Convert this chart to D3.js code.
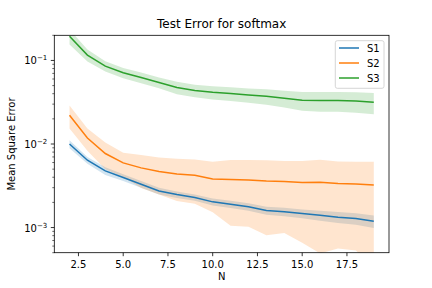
<!DOCTYPE html>
<html>
<head>
<meta charset="utf-8">
<script src="https://cdn.jsdelivr.net/npm/d3@7"></script>
<style>
  body { margin: 0; background: #fff; }
  text { font-family: "DejaVu Sans", sans-serif; fill: #000; }
</style>
</head>
<body>
<div id="chart"></div>
<script>
// Data
const N = [2, 3, 4, 5, 6, 7, 8, 9, 10, 11, 12, 13, 14, 15, 16, 17, 18, 19];
const seriesNames = ["S1", "S2", "S3"];
const colors = ["#1f77b4", "#ff7f0e", "#2ca02c"];

const s1Mean = [0.0100, 0.0064, 0.00477, 0.00397, 0.0033, 0.00274, 0.00248, 0.00229, 0.00203,
  0.0019, 0.00177, 0.0016, 0.00155, 0.00147, 0.0014, 0.00133, 0.00128, 0.00119];
const s1Std = [0.0011, 0.0006, 0.0005, 0.00037, 0.0003, 0.00025, 0.00022, 0.0002, 0.00019,
  0.00019, 0.00018, 0.00018, 0.00018, 0.00018, 0.00019, 0.0002, 0.0002, 0.0002];

const s2Mean = [0.0221, 0.0118, 0.00769, 0.00594, 0.00518, 0.00469, 0.00438, 0.00423, 0.00382,
  0.00375, 0.00372, 0.00361, 0.00356, 0.00346, 0.00349, 0.00336, 0.00333, 0.00324];
const s2Std = [0.0068, 0.0035, 0.0027, 0.0019, 0.0022, 0.0022, 0.0023, 0.0023, 0.0023,
  0.0027, 0.0027, 0.0028, 0.0027, 0.0028, 0.003, 0.0028, 0.0028, 0.0029];

const s3Mean = [0.195, 0.116, 0.0855, 0.0711, 0.0625, 0.0545, 0.0475, 0.0438, 0.0417,
  0.0402, 0.0387, 0.0373, 0.0354, 0.0335, 0.0332, 0.0332, 0.0326, 0.0317];
const s3Std = [0.04, 0.019, 0.012, 0.010, 0.009, 0.008, 0.008, 0.0075, 0.0075,
  0.0075, 0.0075, 0.0078, 0.008, 0.0085, 0.0088, 0.0088, 0.009, 0.009];

const xTicks = [2.5, 5.0, 7.5, 10.0, 12.5, 15.0, 17.5];
const yMajor = [1e-3, 1e-2, 1e-1];

// Layout
const width = 432, height = 288;
const margin = { top: 35.3, right: 43, bottom: 35.3, left: 54.3 };
const innerW = width - margin.left - margin.right;
const innerH = height - margin.top - margin.bottom;

const svg = d3.select("#chart").append("svg")
  .attr("width", width).attr("height", height);

const x = d3.scaleLinear().domain([1.15, 19.85]).range([margin.left, margin.left + innerW]);
const y = d3.scaleLog().domain([5e-4, 0.2]).range([margin.top + innerH, margin.top]);

svg.append("defs").append("clipPath").attr("id", "clip")
  .append("rect")
  .attr("x", margin.left).attr("y", margin.top)
  .attr("width", innerW).attr("height", innerH);

const plot = svg.append("g").attr("clip-path", "url(#clip)");

const series = [
  { mean: s1Mean, std: s1Std },
  { mean: s2Mean, std: s2Std },
  { mean: s3Mean, std: s3Std },
];

const yc = (v) => y(Math.max(v, 1e-6));

const area = d3.area()
  .x((d) => x(d.n))
  .y0((d) => yc(d.lo))
  .y1((d) => yc(d.hi));

const line = d3.line()
  .x((d) => x(d.n))
  .y((d) => y(d.m));

series.forEach((s, i) => {
  const pts = N.map((n, k) => ({
    n, m: s.mean[k], lo: s.mean[k] - s.std[k], hi: s.mean[k] + s.std[k],
  }));
  plot.append("path").datum(pts)
    .attr("d", area)
    .attr("fill", colors[i]).attr("fill-opacity", 0.2);
});

series.forEach((s, i) => {
  const pts = N.map((n, k) => ({ n, m: s.mean[k] }));
  plot.append("path").datum(pts)
    .attr("d", line)
    .attr("fill", "none")
    .attr("stroke", colors[i])
    .attr("stroke-width", 1.5);
});

// Axes
const axisG = svg.append("g");
const bottomY = margin.top + innerH;

xTicks.forEach((t) => {
  axisG.append("line")
    .attr("x1", x(t)).attr("x2", x(t))
    .attr("y1", bottomY).attr("y2", bottomY + 3.5)
    .attr("stroke", "#000").attr("stroke-width", 0.8);
  axisG.append("text")
    .attr("x", x(t)).attr("y", bottomY + 15)
    .attr("text-anchor", "middle")
    .attr("font-size", 10)
    .text(t.toFixed(1));
});

// y minor ticks
const minor = [];
for (let e = -4; e <= -1; e++) {
  for (let m = 2; m <= 9; m++) {
    const v = m * Math.pow(10, e);
    if (v >= 5e-4 && v <= 0.2) minor.push(v);
  }
}
minor.forEach((v) => {
  axisG.append("line")
    .attr("x1", margin.left - 2).attr("x2", margin.left)
    .attr("y1", y(v)).attr("y2", y(v))
    .attr("stroke", "#000").attr("stroke-width", 0.6);
});

yMajor.forEach((v) => {
  axisG.append("line")
    .attr("x1", margin.left - 3.5).attr("x2", margin.left)
    .attr("y1", y(v)).attr("y2", y(v))
    .attr("stroke", "#000").attr("stroke-width", 0.8);
  const exp = Math.round(Math.log10(v));
  const t = axisG.append("text")
    .attr("x", margin.left - 7).attr("y", y(v) + 4)
    .attr("text-anchor", "end")
    .attr("font-size", 10);
  t.append("tspan").text("10");
  t.append("tspan").attr("dy", -4).attr("font-size", 7).text("\u2212" + Math.abs(exp));
});

// Frame
svg.append("rect")
  .attr("x", margin.left).attr("y", margin.top)
  .attr("width", innerW).attr("height", innerH)
  .attr("fill", "none").attr("stroke", "#000").attr("stroke-width", 0.8);

// Labels
svg.append("text")
  .attr("x", margin.left + innerW / 2).attr("y", 28)
  .attr("text-anchor", "middle").attr("font-size", 12)
  .text("Test Error for softmax");

svg.append("text")
  .attr("x", margin.left + innerW / 2).attr("y", 280)
  .attr("text-anchor", "middle").attr("font-size", 10)
  .text("N");

svg.append("text")
  .attr("transform", `translate(15,${margin.top + innerH / 2}) rotate(-90)`)
  .attr("text-anchor", "middle").attr("font-size", 10)
  .text("Mean Square Error");

// Legend
const legend = svg.append("g");
legend.append("rect")
  .attr("x", 335.3).attr("y", 40.7).attr("width", 48.7).attr("height", 47.6)
  .attr("rx", 2)
  .attr("fill", "#fff").attr("fill-opacity", 0.8)
  .attr("stroke", "#ccc").attr("stroke-width", 0.8);
seriesNames.forEach((name, i) => {
  const ly = 48 + i * 15;
  legend.append("line")
    .attr("x1", 339).attr("x2", 359)
    .attr("y1", ly).attr("y2", ly)
    .attr("stroke", colors[i]).attr("stroke-width", 1.5);
  legend.append("text")
    .attr("x", 367).attr("y", ly + 3.5)
    .attr("font-size", 10)
    .text(name);
});
</script>
</body>
</html>
